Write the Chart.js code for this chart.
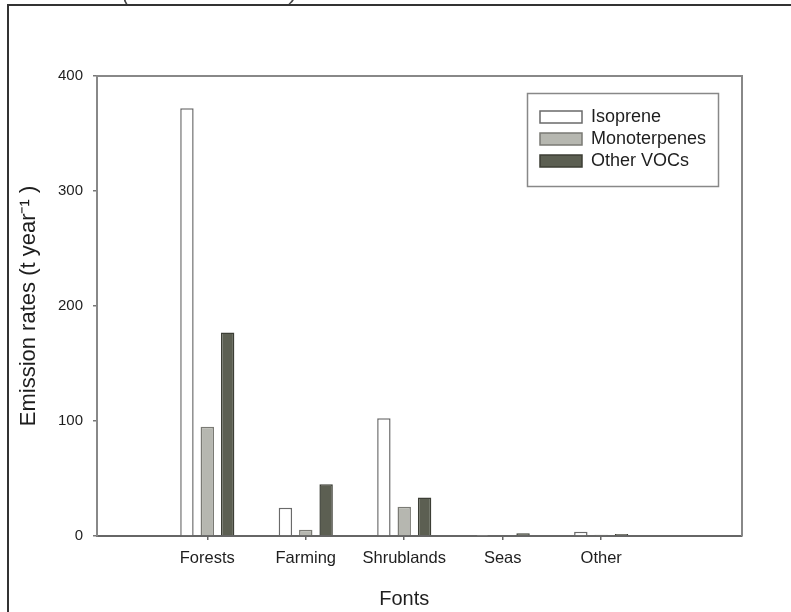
<!DOCTYPE html>
<html><head><meta charset="utf-8">
<script src="https://cdn.jsdelivr.net/npm/chart.js@4"></script>
<style>html,body{margin:0;padding:0;background:#fff}</style>
</head><body>
<canvas id="c" width="791" height="612"></canvas>
<script>
const categories = ['Forests', 'Farming', 'Shrublands', 'Seas', 'Other'];
const categoryPositions = [1, 2, 3, 4, 5];
const isoprene = [372, 24.5, 102.5, 0.3, 3.8];
const monoterpenes = [95, 5.5, 25.5, 0.6, 1.0];
const otherVOCs = [177, 45, 33.5, 2.5, 1.8];
const yTicks = [0, 100, 200, 300, 400];
const seriesNames = ['Isoprene', 'Monoterpenes', 'Other VOCs'];
const captionText = '(Fonti: IPCC 2007)';
const xTitleText = 'Fonts';
const yTitleText = 'Emission rates (t year\u207B\u00B9 )';

const FONT = '"Liberation Sans", Arial, sans-serif';
const TXT = '#1e1e1e';

function pts(vals) { return categoryPositions.map((x, i) => ({x: x, y: vals[i]})); }

const framePlugin = {
  id: 'frame',
  beforeDraw(chart) {
    const ctx = chart.ctx;
    ctx.save();
    ctx.fillStyle = '#fff';
    ctx.fillRect(0, 0, chart.width, chart.height);
    ctx.strokeStyle = '#333';
    ctx.lineWidth = 2;
    ctx.beginPath();
    ctx.moveTo(8, chart.height);
    ctx.lineTo(8, 5);
    ctx.lineTo(chart.width, 5);
    ctx.stroke();
    ctx.fillStyle = '#444';
    ctx.font = 'italic 21px ' + FONT;
    ctx.textAlign = 'center';
    ctx.textBaseline = 'alphabetic';
    ctx.fillText(captionText, 210, 0);
    ctx.restore();
  },
  afterDraw(chart) {
    const ctx = chart.ctx;
    const a = chart.chartArea;
    const xs = chart.scales.x;
    ctx.save();
    ctx.strokeStyle = '#888';
    ctx.lineWidth = 2;
    ctx.beginPath();
    ctx.moveTo(a.left, a.top);
    ctx.lineTo(a.right, a.top);
    ctx.lineTo(a.right, a.bottom);
    ctx.stroke();
    // x axis title, centred under the middle category
    ctx.fillStyle = TXT;
    ctx.font = '20px ' + FONT;
    ctx.textAlign = 'center';
    ctx.textBaseline = 'middle';
    ctx.fillText(xTitleText, xs.getPixelForValue(categoryPositions[2]), 599);
    // legend
    ctx.lineWidth = 1.5;
    ctx.strokeStyle = '#888';
    ctx.strokeRect(527.5, 93.5, 191, 93);
    ctx.font = '18px ' + FONT;
    ctx.textAlign = 'left';
    ctx.textBaseline = 'middle';
    chart.data.datasets.forEach((ds, i) => {
      const cy = 117 + i * 22;
      ctx.fillStyle = ds.backgroundColor;
      ctx.fillRect(540, cy - 6, 42, 12);
      ctx.strokeStyle = ds.borderColor;
      ctx.lineWidth = 1.5;
      ctx.strokeRect(540, cy - 6, 42, 12);
      ctx.fillStyle = TXT;
      ctx.fillText(ds.label, 591, cy);
    });
    ctx.restore();
  }
};

new Chart(document.getElementById('c'), {
  type: 'bar',
  data: {
    datasets: [
      {label: seriesNames[0], data: pts(isoprene), backgroundColor: '#ffffff', borderColor: '#6a6a6a', borderWidth: 1.5},
      {label: seriesNames[1], data: pts(monoterpenes), backgroundColor: '#b6b7b0', borderColor: '#7a7a74', borderWidth: 1.5},
      {label: seriesNames[2], data: pts(otherVOCs), backgroundColor: '#5c5f52', borderColor: '#3c3e35', borderWidth: 1.5}
    ]
  },
  options: {
    responsive: false,
    animation: false,
    devicePixelRatio: 1,
    categoryPercentage: 0.62,
    barPercentage: 0.66,
    layout: {padding: {left: 0, top: 76, right: 49, bottom: 0}},
    plugins: {legend: {display: false}, tooltip: {enabled: false}, title: {display: false}},
    scales: {
      x: {
        type: 'linear',
        offset: false,
        min: -0.12,
        max: 6.43,
        afterBuildTicks: (axis) => { axis.ticks = categoryPositions.map(v => ({value: v})); },
        afterFit: (s) => { s.height = 76; },
        grid: {offset: false, drawOnChartArea: false, drawTicks: true, tickLength: 4, color: '#666', lineWidth: 1.5},
        border: {display: true, color: '#666', width: 2},
        ticks: {
          autoSkip: false, maxRotation: 0, padding: 9, color: TXT,
          font: {family: FONT, size: 16.5},
          callback: (v) => { const i = categoryPositions.indexOf(v); return i >= 0 ? categories[i] : ''; }
        },
        title: {display: false}
      },
      y: {
        min: 0,
        max: 400,
        afterBuildTicks: (axis) => { axis.ticks = yTicks.map(v => ({value: v})); },
        afterFit: (s) => { s.width = 97; },
        grid: {drawOnChartArea: false, drawTicks: true, tickLength: 4, color: '#777', lineWidth: 1.5},
        border: {display: true, color: '#888', width: 2},
        ticks: {padding: 10, color: TXT, font: {family: FONT, size: 15}},
        title: {display: true, text: yTitleText, color: TXT, font: {family: FONT, size: 22}, padding: {top: 16, bottom: 0}}
      }
    }
  },
  plugins: [framePlugin]
});
</script>
</body></html>
